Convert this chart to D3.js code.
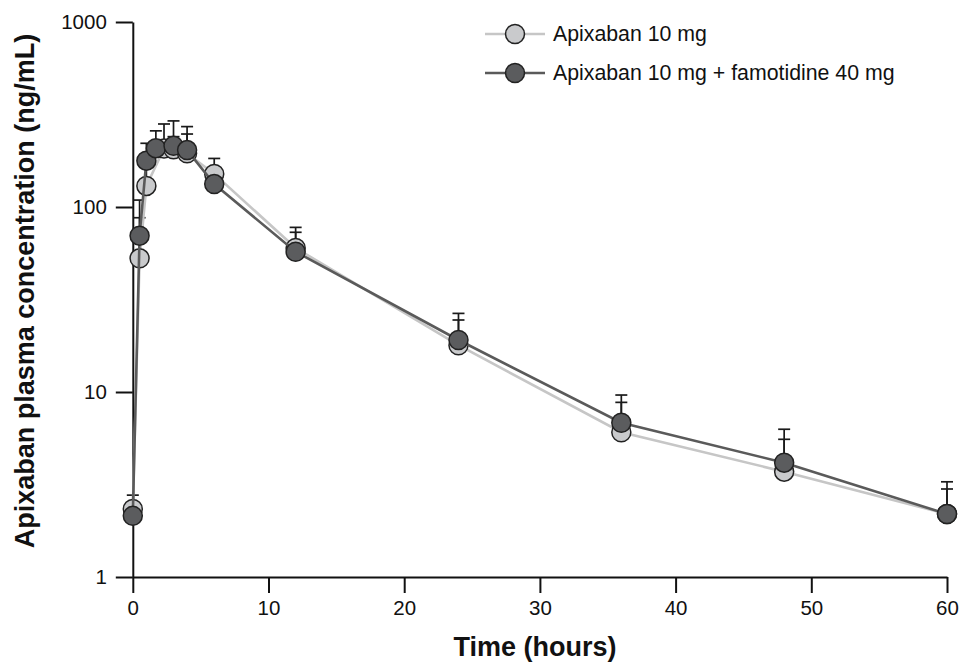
<!DOCTYPE html>
<html>
<head>
<meta charset="utf-8">
<script src="https://cdn.jsdelivr.net/npm/d3@7"></script>
<style>
  body { margin: 0; background: #fff; }
  text { font-family: "Liberation Sans", Arial, Helvetica, sans-serif; }
</style>
</head>
<body>
<div id="chart"></div>
<script>
// data (hours, ng/mL)
var timesLight = [0, 0.5, 1, 2.3, 3, 4, 6, 12, 24, 36, 48, 60];
var meanLight  = [2.33, 52.8, 130, 207, 205, 195, 151, 60, 17.9, 6.06, 3.71, 2.19];
var upperLight = [2.5, 109, 165, 281, 240, 248, 183, 73, 24.5, 8.79, 5.55, 2.99];

var timesDark = [0, 0.5, 1, 1.7, 3, 4, 6, 12, 24, 36, 48, 60];
var meanDark  = [2.14, 70, 178, 208, 214, 203, 133, 57.3, 19.1, 6.82, 4.15, 2.19];
var upperDark = [2.77, 87.5, 221, 258, 292, 272, 155, 77.6, 26.6, 9.63, 6.29, 3.27];

var xTicks = [0, 10, 20, 30, 40, 50, 60];
var yTicks = [1, 10, 100, 1000];
var seriesNames = ['Apixaban 10 mg', 'Apixaban 10 mg + famotidine 40 mg'];

// dimensions
var width = 960, height = 662;
var margin = {top: 22, right: 13, bottom: 85, left: 132.8};

var svg = d3.select('#chart').append('svg')
    .attr('width', width)
    .attr('height', height);

var xScale = d3.scaleLinear()
    .domain([0, 60])
    .range([margin.left, width - margin.right]);
var yScale = d3.scaleLog()
    .domain([1, 1000])
    .range([height - margin.bottom, margin.top]);

// axes
var xAxis = d3.axisBottom(xScale)
    .tickValues(xTicks)
    .tickSize(16)
    .tickSizeOuter(0)
    .tickPadding(7);
var yAxis = d3.axisLeft(yScale)
    .tickValues(yTicks)
    .tickFormat(d3.format('d'))
    .tickSize(17)
    .tickSizeOuter(0)
    .tickPadding(9);

var gx = svg.append('g')
    .attr('transform', 'translate(0,' + (height - margin.bottom) + ')')
    .call(xAxis);
var gy = svg.append('g')
    .attr('transform', 'translate(' + margin.left + ',0)')
    .call(yAxis);

[gx, gy].forEach(function(g){
    g.selectAll('path, line').attr('stroke', '#111').attr('stroke-width', 2);
    g.selectAll('text').attr('fill', '#111').style('font-size', '20.5px')
        .attr('font-family', '"Liberation Sans", Arial, sans-serif');
});

// axis titles
svg.append('text')
    .attr('x', 535)
    .attr('y', 656)
    .attr('text-anchor', 'middle')
    .style('font-size', '27px')
    .style('font-weight', 'bold')
    .attr('fill', '#111')
    .text('Time (hours)');

svg.append('text')
    .attr('transform', 'translate(34,291) rotate(-90)')
    .attr('text-anchor', 'middle')
    .style('font-size', '27px')
    .style('font-weight', 'bold')
    .attr('fill', '#111')
    .text('Apixaban plasma concentration (ng/mL)');

// helper to build point objects
function pts(times, means, uppers){
    return times.map(function(t, i){
        return {t: t, m: means[i], u: uppers[i]};
    });
}
var light = pts(timesLight, meanLight, upperLight);
var dark = pts(timesDark, meanDark, upperDark);

var series = [
    {data: light, line: '#c6c6c6', fill: '#c9cacc'},
    {data: dark, line: '#5a5a5a', fill: '#5b5c5e'}
];

// error bars (upper SD only), drawn behind points
var capHalf = 6;
series.forEach(function(s){
    var eb = svg.append('g');
    eb.selectAll('line.bar')
        .data(s.data)
        .enter()
        .append('line')
            .attr('x1', function(d){ return xScale(d.t); })
            .attr('x2', function(d){ return xScale(d.t); })
            .attr('y1', function(d){ return yScale(d.m); })
            .attr('y2', function(d){ return yScale(d.u); })
            .attr('stroke', '#1a1a1a')
            .attr('stroke-width', 1.7);
    eb.selectAll('line.cap')
        .data(s.data)
        .enter()
        .append('line')
            .attr('x1', function(d){ return xScale(d.t) - capHalf; })
            .attr('x2', function(d){ return xScale(d.t) + capHalf; })
            .attr('y1', function(d){ return yScale(d.u); })
            .attr('y2', function(d){ return yScale(d.u); })
            .attr('stroke', '#1a1a1a')
            .attr('stroke-width', 1.7);
});

var lineGen = d3.line()
    .x(function(d){ return xScale(d.t); })
    .y(function(d){ return yScale(d.m); });

series.forEach(function(s){
    svg.append('path')
        .datum(s.data)
        .attr('d', lineGen)
        .attr('fill', 'none')
        .attr('stroke', s.line)
        .attr('stroke-width', 2.6);
    svg.append('g').selectAll('circle')
        .data(s.data)
        .enter()
        .append('circle')
            .attr('cx', function(d){ return xScale(d.t); })
            .attr('cy', function(d){ return yScale(d.m); })
            .attr('r', 9.5)
            .attr('fill', s.fill)
            .attr('stroke', '#222')
            .attr('stroke-width', 1.5);
});

// legend
var legend = svg.append('g');
series.forEach(function(s, i){
    var ly = 34 + i * 39;
    legend.append('line')
        .attr('x1', 485).attr('x2', 545)
        .attr('y1', ly).attr('y2', ly)
        .attr('stroke', s.line)
        .attr('stroke-width', 2.6);
    legend.append('circle')
        .attr('cx', 515).attr('cy', ly)
        .attr('r', 9.5)
        .attr('fill', s.fill)
        .attr('stroke', '#222')
        .attr('stroke-width', 1.5);
    legend.append('text')
        .attr('x', 553)
        .attr('y', ly)
        .attr('dy', '0.35em')
        .style('font-size', '21.3px')
        .attr('fill', '#111')
        .text(seriesNames[i]);
});
</script>
</body>
</html>
